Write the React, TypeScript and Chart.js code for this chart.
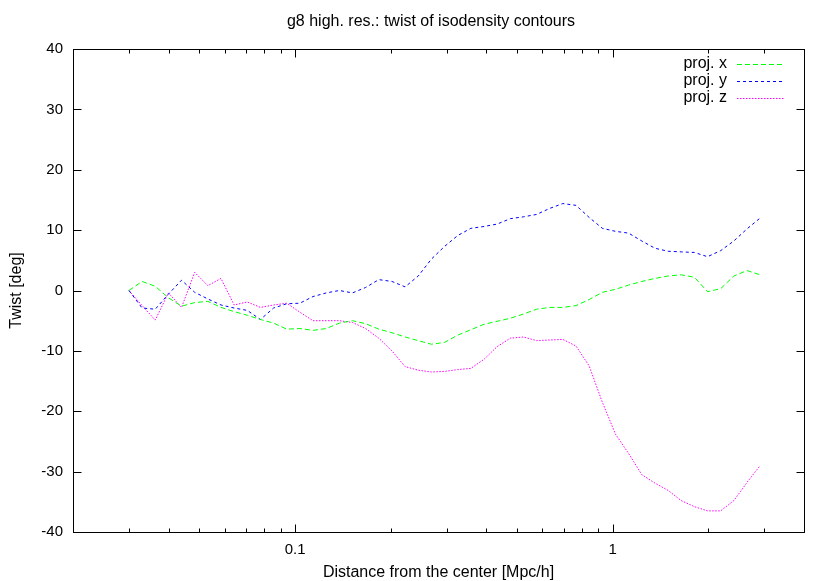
import React, { useEffect, useRef } from "react";
import { Chart, registerables } from "chart.js";

Chart.register(...registerables);

// Distance from the center [Mpc/h]
const distances = [
  0.03, 0.033, 0.0363, 0.03993, 0.04392, 0.04832, 0.05315, 0.05846, 0.06431, 0.07074,
  0.07781, 0.08559, 0.09415, 0.10357, 0.11392, 0.12532, 0.13785, 0.15163, 0.1668, 0.18348,
  0.20182, 0.22201, 0.24421, 0.26863, 0.29549, 0.32504, 0.35755, 0.3933, 0.43263, 0.47589,
  0.52348, 0.57583, 0.63341, 0.69675, 0.76643, 0.84307, 0.92738, 1.02012, 1.12213, 1.23434,
  1.35778, 1.49356, 1.64291, 1.8072, 1.98792, 2.18671, 2.40539, 2.64592, 2.91052,
];

const projX = [
  0, 1.5, 0.7, -1.2, -2.6, -2.0, -1.8, -2.8, -3.5, -4.1,
  -4.8, -5.4, -6.4, -6.3, -6.6, -6.3, -5.4, -5.0, -5.5, -6.4,
  -7.0, -7.7, -8.3, -8.9, -8.6, -7.4, -6.5, -5.6, -5.1, -4.6,
  -3.9, -3.1, -2.8, -2.8, -2.5, -1.5, -0.3, 0.2, 0.9, 1.5,
  2.0, 2.4, 2.6, 2.2, -0.2, 0.3, 2.4, 3.3, 2.6,
];

const projY = [
  0, -2.9, -3.1, -0.6, 1.7, -0.3, -1.4, -2.4, -2.9, -3.3,
  -4.8, -2.9, -2.2, -2.1, -1.0, -0.4, 0.0, -0.4, 0.5, 1.8,
  1.5, 0.6, 2.4, 5.2, 7.3, 9.1, 10.3, 10.6, 11.0, 11.9,
  12.2, 12.6, 13.6, 14.4, 14.1, 12.1, 10.3, 9.8, 9.5, 8.2,
  7.0, 6.5, 6.4, 6.3, 5.6, 6.6, 8.2, 10.2, 12.0,
];

const projZ = [
  0, -2.5, -4.9, -0.4, -2.8, 3.0, 0.8, 2.0, -2.4, -1.9,
  -2.8, -2.4, -2.1, -3.6, -5.0, -5.0, -5.0, -5.3, -6.3, -7.9,
  -10.0, -12.6, -13.2, -13.5, -13.4, -13.1, -12.9, -11.4, -9.3, -7.9,
  -7.7, -8.3, -8.2, -8.1, -9.2, -12.5, -18.5, -23.8, -27.0, -30.5,
  -31.9, -33.1, -34.8, -35.8, -36.5, -36.5, -34.8, -31.8, -29.0,
];

const seriesLabels = ["proj. x", "proj. y", "proj. z"];
const seriesColors = ["#00ff00", "#0000ff", "#ff00ff"];
const seriesDashes = [[5, 3], [3, 3], [1.5, 1.5]];

const yTickValues = [40, 30, 20, 10, 0, -10, -20, -30, -40];
const xMajorTicks = [0.1, 1];
const xMinorTicks = [0.03, 0.04, 0.05, 0.06, 0.07, 0.08, 0.09, 0.2, 0.3, 0.4, 0.5, 0.6, 0.7, 0.8, 0.9, 2, 3, 4];

const titleText = "g8 high. res.: twist of isodensity contours";
const xTitle = "Distance from the center [Mpc/h]";
const yTitle = "Twist [deg]";

const FONT = "'Liberation Sans', Arial, sans-serif";
const FONT_SIZE = 16;
const TICK_FONT_SIZE = 15;

const gnuplotDecor = {
  id: "gnuplotDecor",
  afterDatasetsDraw(chart: any) {
    const { ctx, chartArea: a, scales } = chart;
    const xs = scales.x;
    const ys = scales.y;
    const L = Math.round(a.left) + 0.5;
    const R = Math.round(a.right) + 0.5;
    const T = Math.round(a.top) + 0.5;
    const B = Math.round(a.bottom) + 0.5;
    ctx.save();
    ctx.strokeStyle = "#000";
    ctx.lineWidth = 1;
    ctx.setLineDash([]);
    ctx.beginPath();
    for (const v of yTickValues) {
      const py = Math.round(ys.getPixelForValue(v)) + 0.5;
      ctx.moveTo(L, py);
      ctx.lineTo(L + 8, py);
      ctx.moveTo(R, py);
      ctx.lineTo(R - 8, py);
    }
    for (const v of xMajorTicks) {
      const px = Math.round(xs.getPixelForValue(v)) + 0.5;
      ctx.moveTo(px, B);
      ctx.lineTo(px, B - 8);
      ctx.moveTo(px, T);
      ctx.lineTo(px, T + 8);
    }
    for (const v of xMinorTicks) {
      const px = Math.round(xs.getPixelForValue(v)) + 0.5;
      ctx.moveTo(px, B);
      ctx.lineTo(px, B - 4);
      ctx.moveTo(px, T);
      ctx.lineTo(px, T + 4);
    }
    ctx.stroke();
    ctx.strokeRect(L, T, R - L, B - T);

    // legend
    ctx.font = `${FONT_SIZE}px ${FONT}`;
    ctx.fillStyle = "#000";
    ctx.textAlign = "right";
    ctx.textBaseline = "middle";
    const legendYs = [64, 81, 98];
    seriesLabels.forEach((lab, i) => {
      const ly = legendYs[i];
      ctx.fillText(lab, 727, ly);
      ctx.save();
      ctx.strokeStyle = seriesColors[i];
      ctx.setLineDash(seriesDashes[i]);
      ctx.beginPath();
      ctx.moveTo(737, ly + 0.5);
      ctx.lineTo(784, ly + 0.5);
      ctx.stroke();
      ctx.restore();
    });

    // titles
    ctx.textAlign = "center";
    ctx.fillText(titleText, 431, 22);
    ctx.fillText(xTitle, (a.left + a.right) / 2, 573);
    ctx.save();
    ctx.translate(17, (a.top + a.bottom) / 2);
    ctx.rotate(-Math.PI / 2);
    ctx.fillText(yTitle, 0, 0);
    ctx.restore();
    ctx.restore();
  },
};

export default function App() {
  const canvasRef = useRef<HTMLCanvasElement | null>(null);

  useEffect(() => {
    document.body.style.margin = "0";
    const canvas = canvasRef.current;
    if (!canvas) return;
    const makeData = (vals: number[]) => distances.map((d, i) => ({ x: d, y: vals[i] }));
    const all = [projX, projY, projZ];
    const chart = new Chart(canvas, {
      type: "line",
      data: {
        datasets: all.map((vals, i) => ({
          label: seriesLabels[i],
          data: makeData(vals),
          borderColor: seriesColors[i],
          borderWidth: 1,
          borderDash: seriesDashes[i],
          pointRadius: 0,
          tension: 0,
          fill: false,
        })),
      },
      options: {
        responsive: false,
        animation: false,
        devicePixelRatio: 1,
        layout: { padding: { top: 49, right: 26, left: 0, bottom: 0 } },
        plugins: {
          legend: { display: false },
          title: { display: false },
          tooltip: { enabled: false },
        },
        scales: {
          x: {
            type: "logarithmic",
            min: 0.02,
            max: 4,
            grid: { display: false, drawTicks: false },
            border: { display: false },
            afterBuildTicks: (scale: any) => {
              scale.ticks = xMajorTicks.map((v) => ({ value: v, major: true }));
            },
            afterFit: (scale: any) => {
              scale.height = 49;
            },
            ticks: {
              autoSkip: false,
              maxRotation: 0,
              padding: 9,
              color: "#000",
              font: { family: FONT, size: TICK_FONT_SIZE },
              callback: (v: any) => String(v),
            },
          },
          y: {
            type: "linear",
            min: -40,
            max: 40,
            grid: { display: false, drawTicks: false },
            border: { display: false },
            afterFit: (scale: any) => {
              scale.width = 73;
            },
            ticks: {
              stepSize: 10,
              padding: 10,
              color: "#000",
              font: { family: FONT, size: TICK_FONT_SIZE },
            },
          },
        },
      },
      plugins: [gnuplotDecor],
    } as any);
    return () => chart.destroy();
  }, []);

  return (
    <div style={{ width: 830, height: 581, background: "#fff" }}>
      <canvas ref={canvasRef} width={830} height={581} style={{ display: "block", width: 830, height: 581 }} />
    </div>
  );
}
